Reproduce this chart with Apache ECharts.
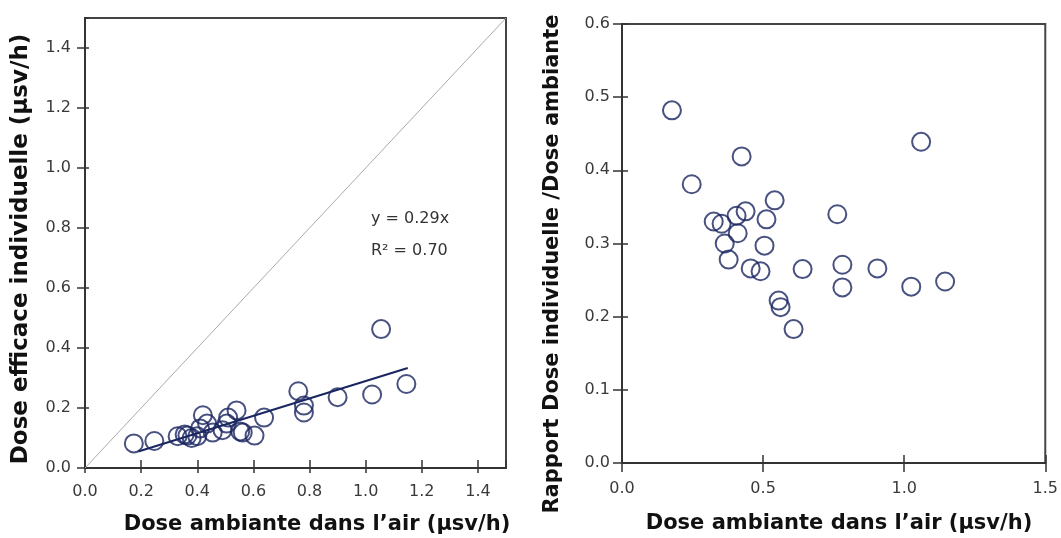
<!DOCTYPE html>
<html>
<head>
<meta charset="utf-8">
<script src="https://cdn.jsdelivr.net/npm/echarts@6/dist/echarts.min.js"></script>
<style>
  html, body { margin: 0; padding: 0; background: #fff; }
  #chart { width: 1061px; height: 538px; }
</style>
</head>
<body>
<div id="chart"></div>
<script>
// gauche : dose efficace individuelle vs dose ambiante
const doseAmbianteG = [0.174, 0.247, 0.33, 0.355, 0.365, 0.38, 0.40, 0.41, 0.42, 0.435, 0.455, 0.49, 0.505,
  0.51, 0.54, 0.553, 0.562, 0.604, 0.638, 0.76, 0.78, 0.78, 0.90, 1.023, 1.055, 1.145]
const doseIndividuelle = [0.082, 0.090, 0.106, 0.112, 0.108, 0.100, 0.106, 0.132, 0.176, 0.148, 0.118, 0.126, 0.148,
  0.168, 0.192, 0.122, 0.118, 0.108, 0.168, 0.256, 0.208, 0.185, 0.236, 0.245, 0.463, 0.28]
// droite : rapport dose individuelle / dose ambiante
const doseAmbianteD = [0.177, 0.247, 0.424, 1.06, 0.325, 0.353, 0.406, 0.438, 0.541, 0.512, 0.41, 0.364, 0.505,
  0.378, 0.456, 0.491, 0.64, 0.763, 0.781, 0.781, 0.905, 1.025, 1.145, 0.555, 0.562, 0.608]
const rapport = [0.482, 0.381, 0.419, 0.439, 0.330, 0.327, 0.338, 0.344, 0.359, 0.333, 0.314, 0.300, 0.297,
  0.278, 0.266, 0.262, 0.265, 0.340, 0.271, 0.240, 0.266, 0.241, 0.248, 0.222, 0.213, 0.183]
// régression y = 0.29x, tracée entre ces bornes
const pente = 0.29
const regX = [0.19, 1.15]
const diagonale = [0, 1.5]

const navy = '#1a2660'
const tickFont = { fontFamily: 'DejaVu Sans', fontSize: 16, color: '#3a3a3a' }
const titleFont = 'bold 21px "DejaVu Sans"'
const titleFontY = 'bold 23px "DejaVu Sans"'

const chart = echarts.init(document.getElementById('chart'))

function mainAxis (gridIndex, max, interval, showMax, tickLen, margin) {
  return {
    type: 'value',
    gridIndex: gridIndex,
    min: 0,
    max: max,
    interval: interval,
    axisLine: { show: true, onZero: false, lineStyle: { color: '#333', width: 2 } },
    axisTick: { show: true, inside: false, length: tickLen, lineStyle: { color: '#333', width: 1.5 } },
    axisLabel: Object.assign({ showMaxLabel: showMax, margin: margin, formatter: v => v.toFixed(1) }, tickFont),
    splitLine: { show: false }
  }
}
// second axe superposé : seulement les graduations vers l'intérieur
function innerAxis (gridIndex, max, interval, position, tickLen) {
  return {
    type: 'value',
    gridIndex: gridIndex,
    position: position,
    min: 0,
    max: max,
    interval: interval,
    axisLine: { show: false },
    axisTick: { show: true, inside: true, length: tickLen, lineStyle: { color: '#333', width: 1.5 } },
    axisLabel: { show: false },
    splitLine: { show: false }
  }
}

const scatterStyle = {
  type: 'scatter',
  symbol: 'circle',
  symbolSize: 18,
  itemStyle: { color: 'rgba(0,0,0,0)', borderColor: navy, borderWidth: 2 },
  emphasis: { disabled: true }
}

function txt (x, y, text, font, rot) {
  return {
    type: 'text',
    x: x,
    y: y,
    rotation: rot || 0,
    style: { text: text, font: font, fill: '#111', align: 'center', verticalAlign: 'middle' }
  }
}

chart.setOption({
  animation: false,
  grid: [
    { left: 85, top: 18, width: 421, height: 450, show: true, borderColor: '#444', borderWidth: 2 },
    { left: 622, top: 24, width: 424, height: 439, show: true, borderColor: '#444', borderWidth: 2 }
  ],
  xAxis: [
    mainAxis(0, 1.5, 0.2, false, 5, 16),
    innerAxis(0, 1.5, 0.2, 'bottom', 8),
    mainAxis(1, 1.5, 0.5, true, 9, 18),
    innerAxis(1, 1.5, 0.5, 'bottom', 8)
  ],
  yAxis: [
    mainAxis(0, 1.5, 0.2, false, 8, 14),
    innerAxis(0, 1.5, 0.2, 'left', 4),
    mainAxis(1, 0.6, 0.1, true, 9, 12),
    innerAxis(1, 0.6, 0.1, 'left', 6)
  ],
  graphic: [
    { type: 'text', x: 371, y: 219, style: { text: 'y = 0.29x', font: '16px "DejaVu Sans"', fill: '#333', verticalAlign: 'middle' } },
    { type: 'text', x: 371, y: 251, style: { text: 'R² = 0.70', font: '16px "DejaVu Sans"', fill: '#333', verticalAlign: 'middle' } },
    txt(317, 525, 'Dose ambiante dans l’air (µsv/h)', titleFont),
    txt(839, 524, 'Dose ambiante dans l’air (µsv/h)', titleFont),
    txt(21, 249, 'Dose efficace individuelle (µsv/h)', titleFontY, Math.PI / 2),
    txt(553, 264, 'Rapport Dose individuelle /Dose ambiante', titleFont, Math.PI / 2)
  ],
  series: [
    {
      type: 'line',
      xAxisIndex: 0,
      yAxisIndex: 0,
      data: diagonale.map(v => [v, v]),
      symbol: 'none',
      lineStyle: { color: '#aaa', width: 1 },
      silent: true
    },
    {
      type: 'line',
      xAxisIndex: 0,
      yAxisIndex: 0,
      data: regX.map(x => [x, pente * x]),
      symbol: 'none',
      lineStyle: { color: navy, width: 2 },
      silent: true
    },
    Object.assign({ xAxisIndex: 0, yAxisIndex: 0, data: doseAmbianteG.map((x, i) => [x, doseIndividuelle[i]]) }, scatterStyle),
    Object.assign({ xAxisIndex: 2, yAxisIndex: 2, data: doseAmbianteD.map((x, i) => [x, rapport[i]]) }, scatterStyle)
  ]
})
</script>
</body>
</html>
